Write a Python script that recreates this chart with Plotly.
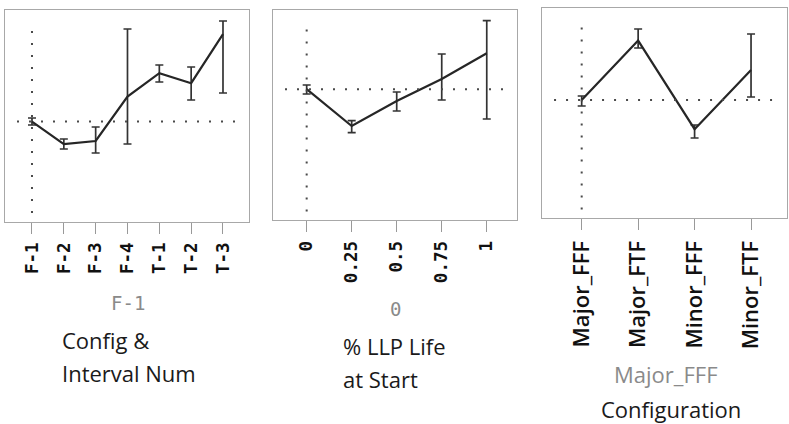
import plotly.graph_objects as go

W, H = 789, 424

# ---------------- data ----------------
cfg_cats = ["F-1", "F-2", "F-3", "F-4", "T-1", "T-2", "T-3"]
cfg_mean = [50.2, 38.9, 40.5, 62.7, 74.4, 69.4, 93.9]
cfg_hi = [52.0, 41.5, 47.5, 96.5, 78.5, 77.5, 100.5]
cfg_lo = [48.5, 36.5, 34.5, 39.0, 70.0, 61.0, 64.5]
cfg_current = "F-1"

llp_x = [0, 0.25, 0.5, 0.75, 1]
llp_ticktext = ["0", "0.25", "0.5", "0.75", "1"]
llp_mean = [66.4, 48.0, 60.5, 71.5, 84.4]
llp_hi = [68.5, 50.7, 65.0, 84.0, 100.7]
llp_lo = [64.0, 44.7, 55.5, 61.0, 51.5]
llp_current = 0

conf_cats = ["Major_FFF", "Major_FTF", "Minor_FFF", "Minor_FTF"]
conf_mean = [61.0, 90.7, 46.4, 76.0]
conf_hi = [63.0, 96.5, 48.5, 94.0]
conf_lo = [58.0, 87.0, 42.0, 62.5]
conf_current = "Major_FFF"

titles = [["Config &", "Interval Num"], ["% LLP Life", "at Start"], ["Configuration"]]
current_labels = [cfg_current, str(llp_current), conf_current]

# ---------------- style ----------------
LINE = "#262626"
FRAME = "#a8a8a8"
DOT = "#4a4a4a"
MONO = "DejaVu Sans Mono"
SANS = "Open Sans"


def px_x(p):
    return p / W


def px_y(p):
    return 1 - p / H


panels = [
    dict(x=cfg_cats, m=cfg_mean, hi=cfg_hi, lo=cfg_lo, cur=cfg_current,
         dom=[5, 249], ydom=[10, 221.5], xr=[-0.848, 6.817], yr=[0.25, 106.0],
         font=dict(family=MONO, size=17.5, color="#111111", weight="bold"), ax="1"),
    dict(x=llp_x, m=llp_mean, hi=llp_hi, lo=llp_lo, cur=llp_current,
         dom=[273, 517], ydom=[10, 220], xr=[-0.187, 1.168], yr=[1.0, 106.0],
         font=dict(family=MONO, size=17.5, color="#111111", weight="bold"), ax="2"),
    dict(x=conf_cats, m=conf_mean, hi=conf_hi, lo=conf_lo, cur=conf_current,
         dom=[542, 787], ydom=[8, 218], xr=[-0.703, 3.637], yr=[2.0, 107.0],
         font=dict(family=SANS, size=22, color="#111111", weight=600), ax="3"),
]

fig = go.Figure()
layout = dict(
    width=W, height=H, margin=dict(l=0, r=0, t=0, b=0),
    paper_bgcolor="white", plot_bgcolor="white", showlegend=False,
)

shapes = []
for i, p in enumerate(panels):
    a = p["ax"]
    xa = "x" if a == "1" else "x" + a
    ya = "y" if a == "1" else "y" + a
    up = [h - m for h, m in zip(p["hi"], p["m"])]
    dn = [m - l for m, l in zip(p["m"], p["lo"])]
    fig.add_trace(go.Scatter(
        x=p["x"], y=p["m"], mode="lines", xaxis=xa, yaxis=ya,
        line=dict(color=LINE, width=2.2),
        error_y=dict(type="data", symmetric=False, array=up, arrayminus=dn,
                     color="#333333", thickness=1.7, width=4),
        hoverinfo="skip",
    ))
    cur_idx = list(p["x"]).index(p["cur"])
    cur_val = p["m"][cur_idx]
    # horizontal dotted line at current prediction
    shapes.append(dict(type="line", xref=xa + " domain", yref=ya,
                       x0=12 / 244, x1=1 - 12 / 244, y0=cur_val, y1=cur_val,
                       line=dict(color=DOT, width=2, dash="2px,10px")))
    # vertical dotted line at current setting
    shapes.append(dict(type="line", xref=xa, yref=ya + " domain",
                       x0=p["cur"], x1=p["cur"], y0=0.04, y1=0.93,
                       line=dict(color=DOT, width=2, dash="2px,10px")))

    xkey = "xaxis" if a == "1" else "xaxis" + a
    ykey = "yaxis" if a == "1" else "yaxis" + a
    xax = dict(
        domain=[px_x(p["dom"][0]), px_x(p["dom"][1])], anchor=ya,
        range=p["xr"], showgrid=False, zeroline=False,
        showline=True, mirror=True, linecolor=FRAME, linewidth=1,
        ticks="outside", ticklen=11, tickcolor="#999999", tickwidth=1,
        tickangle=-90, tickfont=p["font"], ticklabelstandoff=2,
    )
    if a == "2":
        xax.update(tickmode="array", tickvals=llp_x, ticktext=llp_ticktext)
    else:
        xax.update(type="category")
    layout[xkey] = xax
    layout[ykey] = dict(
        domain=[px_y(p["ydom"][1]), px_y(p["ydom"][0])], anchor=xa,
        range=p["yr"], showgrid=False, zeroline=False, showticklabels=False,
        ticks="", showline=True, mirror=True, linecolor=FRAME, linewidth=1,
    )

layout["shapes"] = shapes

ann = []
# current-value labels (gray)
cur_pos = [(128, 303, MONO, 19), (396, 309, MONO, 19), (666, 374, SANS, 22)]
for lab, (cx, cy, fam, fs) in zip(current_labels, cur_pos):
    ann.append(dict(text=lab, x=px_x(cx), y=px_y(cy), xref="paper", yref="paper",
                    xanchor="center", yanchor="middle", showarrow=False,
                    font=dict(family=fam, size=fs, color="#8a8a8a")))
# axis titles (left-aligned blocks)
title_pos = [(60, [340, 373]), (341, [346, 379]), (599, [409])]
for lines, (lx, ys) in zip(titles, title_pos):
    for t, yy in zip(lines, ys):
        ann.append(dict(text=t, x=px_x(lx), y=px_y(yy), xref="paper", yref="paper",
                        xanchor="left", yanchor="middle", showarrow=False,
                        font=dict(family=SANS, size=22, color="#1a1a1a")))
layout["annotations"] = ann

fig.update_layout(**layout)
fig.write_html("out.html")
